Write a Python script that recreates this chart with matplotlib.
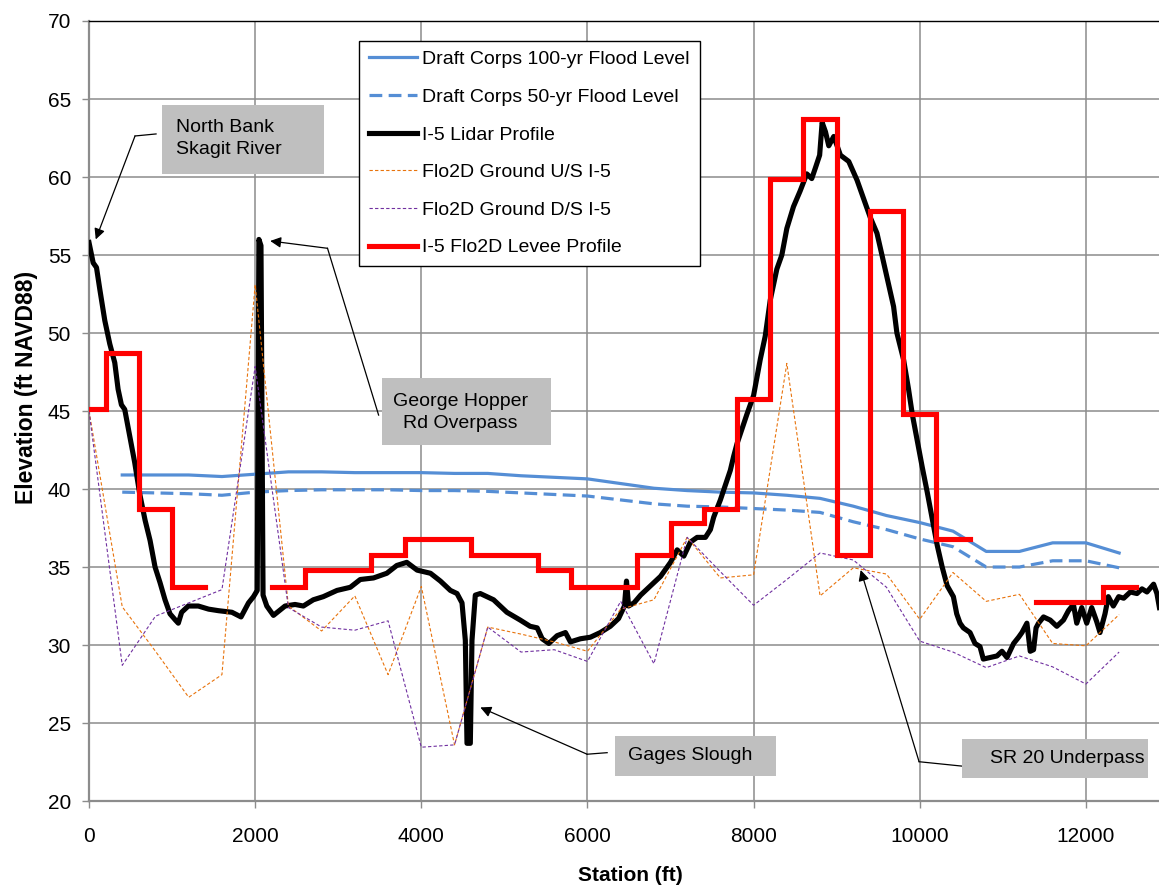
import matplotlib
matplotlib.use("Agg")
import matplotlib.pyplot as plt
from matplotlib.patches import Rectangle
import numpy as np

plt.rcParams["font.family"] = ["Liberation Sans", "DejaVu Sans"]

# Draft Corps flood levels (ft NAVD88)
corps_station = [400, 800, 1200, 1600, 2000, 2400, 2800, 3200, 3600, 4000, 4400,
                 4800, 5200, 5600, 6000, 6400, 6800, 7200, 7600, 8000, 8400, 8800,
                 9200, 9600, 10000, 10400, 10800, 11200, 11600, 12000, 12400]
corps_100yr = [40.9, 40.9, 40.9, 40.8, 40.95, 41.1, 41.1, 41.05, 41.05, 41.05, 41.0,
               41.0, 40.85, 40.75, 40.65, 40.35, 40.05, 39.9, 39.8, 39.75, 39.6, 39.4,
               38.9, 38.3, 37.85, 37.3, 36.0, 36.0, 36.55, 36.55, 35.9]
corps_50yr = [39.8, 39.75, 39.7, 39.6, 39.8, 39.9, 39.95, 39.95, 39.95, 39.9, 39.9,
              39.85, 39.75, 39.65, 39.55, 39.3, 39.05, 38.9, 38.85, 38.75, 38.65, 38.5,
              37.9, 37.4, 36.8, 36.3, 35.0, 35.0, 35.4, 35.4, 34.95]

# I-5 centerline from lidar
lidar_station = [0, 50, 90, 130, 190, 250, 310, 350, 390, 430, 490, 550, 610, 675, 735,
                 795, 855, 915, 975, 1040, 1075, 1115, 1195, 1315, 1440, 1560, 1720, 1830,
                 1920, 1980, 2025, 2045, 2070, 2095, 2140, 2220, 2360, 2480, 2580, 2700,
                 2820, 2985, 3145, 3265, 3425, 3585, 3705, 3825, 3950, 4110, 4230, 4350,
                 4430, 4490, 4530, 4550, 4590, 4610, 4650, 4710, 4870, 5030, 5190, 5310,
                 5395, 5455, 5535, 5635, 5735, 5795, 5915, 6035, 6155, 6275, 6375, 6445,
                 6470, 6495, 6560, 6640, 6760, 6880, 7000, 7080, 7160, 7240, 7320, 7420,
                 7480, 7520, 7600, 7720, 7760, 7800, 7920, 8000, 8080, 8140, 8200, 8280,
                 8340, 8400, 8480, 8560, 8640, 8700, 8745, 8795, 8825, 8865, 8905, 8965,
                 9045, 9145, 9245, 9325, 9405, 9485, 9545, 9625, 9685, 9725, 9805, 9865,
                 9910, 9970, 10030, 10090, 10150, 10210, 10270, 10330, 10405, 10445,
                 10485, 10525, 10605, 10665, 10725, 10765, 10850, 10930, 10990, 11050,
                 11130, 11190, 11230, 11290, 11330, 11370, 11400, 11430, 11490, 11570,
                 11650, 11730, 11790, 11850, 11890, 11950, 12010, 12070, 12130, 12170,
                 12230, 12270, 12330, 12395, 12455, 12535, 12615, 12675, 12735, 12815,
                 12855, 12885]
lidar_elev = [55.8, 54.5, 54.2, 52.8, 50.8, 49.3, 48.1, 46.4, 45.4, 45.1, 43.4, 41.7, 39.7,
              38.0, 36.7, 35.0, 34.0, 32.9, 32.0, 31.6, 31.4, 32.1, 32.5, 32.5, 32.3, 32.2,
              32.1, 31.8, 32.7, 33.1, 33.5, 56.0, 55.6, 33.2, 32.5, 31.9, 32.5, 32.6, 32.5,
              32.9, 33.1, 33.5, 33.7, 34.2, 34.3, 34.6, 35.1, 35.3, 34.8, 34.6, 34.1, 33.5,
              33.3, 32.7, 30.3, 23.7, 23.7, 30.3, 33.2, 33.3, 32.9, 32.1, 31.6, 31.2, 31.1,
              30.4, 30.1, 30.6, 30.8, 30.2, 30.4, 30.5, 30.8, 31.2, 31.7, 32.5, 34.1, 32.5,
              32.7, 33.2, 33.8, 34.4, 35.3, 36.1, 35.7, 36.6, 36.9, 36.9, 37.4, 38.2, 39.3,
              41.2, 42.1, 42.9, 44.8, 46.0, 48.3, 49.8, 52.1, 54.1, 55.0, 56.7, 58.1, 59.1,
              60.2, 59.9, 60.6, 61.4, 63.5, 62.9, 62.0, 62.6, 61.4, 61.0, 59.8, 58.6, 57.4,
              56.4, 55.0, 53.1, 51.7, 50.0, 48.3, 46.4, 44.8, 43.1, 41.4, 39.8, 38.1, 36.4,
              35.0, 33.8, 33.1, 32.0, 31.4, 31.1, 30.8, 30.1, 29.9, 29.1, 29.2, 29.3, 29.6,
              29.2, 30.1, 30.5, 30.8, 31.4, 29.6, 29.7, 31.1, 31.4, 31.8, 31.6, 31.2, 31.6,
              32.2, 32.6, 31.4, 32.4, 31.4, 32.4, 31.5, 30.8, 32.0, 33.1, 32.5, 33.1, 33.0,
              33.4, 33.3, 33.6, 33.4, 33.9, 33.3, 32.4]

# Flo2D grid ground elevations either side of I-5
flo2d_station = [0, 400, 800, 1200, 1600, 2000, 2400, 2800, 3200, 3600, 4000, 4400,
                 4800, 5200, 5600, 6000, 6400, 6800, 7200, 7600, 8000, 8400, 8800,
                 9200, 9600, 10000, 10400, 10800, 11200, 11600, 12000, 12400]
flo2d_us = [45.0, 32.45, 29.6, 26.65, 28.1, 53.1, 32.5, 30.9, 33.15, 28.1, 33.75, 23.6,
            31.15, 30.7, 30.2, 29.6, 32.3, 32.9, 36.9, 34.3, 34.5, 48.05, 33.15,
            34.95, 34.55, 31.65, 34.65, 32.8, 33.25, 30.1, 29.95, 31.95]
flo2d_ds = [45.0, 28.7, 31.85, 32.7, 33.55, 47.85, 32.4, 31.15, 30.95, 31.55, 23.45, 23.6,
            31.15, 29.55, 29.7, 28.95, 32.8, 28.8, 36.9, 34.7, 32.55, 34.2, 35.9,
            35.45, 33.7, 30.25, 29.55, 28.55, 29.3, 28.6, 27.5, 29.55]

# Flo2D levee elevations between station breaks (nan = no levee cells)
levee_breaks = [0, 200, 600, 1000, 1400, 2200, 2600, 3400, 3800, 4600, 5400, 5800,
                6600, 7000, 7400, 7800, 8200, 8600, 9000, 9400, 9800, 10200, 10600,
                11400, 12200, 12600]
levee_elev = [45.1, 48.75, 38.75, 33.75, np.nan, 33.75, 34.8, 35.75, 36.8, 35.75, 34.8,
              33.75, 35.75, 37.8, 38.7, 45.75, 59.85, 63.7, 35.75, 57.8, 44.8, 36.8,
              np.nan, 32.75, 33.75]

levee_x, levee_y = [], []
for a, b, z in zip(levee_breaks[:-1], levee_breaks[1:], levee_elev):
    levee_x += [a, b]
    levee_y += [z, z]

BLUE = "#558ED5"
GRID = "#8C8C8C"

fig = plt.figure(figsize=(11.59, 8.86), dpi=100)
ax = fig.add_axes([0.0768, 0.0959, 0.9232, 0.8804])

ax.plot(corps_station, corps_100yr, color=BLUE, lw=2.3,
        label="Draft Corps 100-yr Flood Level", zorder=3)
ax.plot(corps_station, corps_50yr, color=BLUE, lw=2.3, dashes=(4, 2),
        label="Draft Corps 50-yr Flood Level", zorder=3)
ax.plot(lidar_station, lidar_elev, color="black", lw=3.7, solid_joinstyle="round",
        label="I-5 Lidar Profile", zorder=4)
ax.plot(flo2d_station, flo2d_us, color="#E8730C", lw=0.8, dashes=(3, 2),
        label="Flo2D Ground U/S I-5", zorder=5)
ax.plot(flo2d_station, flo2d_ds, color="#7030A0", lw=0.8, dashes=(3, 2),
        label="Flo2D Ground D/S I-5", zorder=5)
ax.plot(levee_x, levee_y, color="#FF0000", lw=3.7, solid_joinstyle="miter",
        solid_capstyle="projecting", label="I-5 Flo2D Levee Profile", zorder=6)

ax.set_xlim(0, 12880)
ax.set_ylim(20, 70)
ax.set_xticks(np.arange(0, 12001, 2000))
ax.set_yticks(np.arange(20, 71, 5))
ax.grid(True, color=GRID, lw=1.1)
ax.set_axisbelow(True)
for side in ("left", "bottom"):
    ax.spines[side].set_color(GRID)
    ax.spines[side].set_linewidth(1.6)
ax.spines["top"].set_color("black")
ax.spines["top"].set_linewidth(1.0)
ax.spines["right"].set_visible(False)
ax.tick_params(axis="both", direction="out", length=5, width=1, color=GRID,
               labelsize=15)
ax.tick_params(axis="x", pad=14)
ax.tick_params(axis="y", pad=8)

ax.set_xlabel("Station (ft)", fontsize=15, fontweight="bold")
ax.xaxis.set_label_coords(0.5056, -0.095)
ax.xaxis.label.set_verticalalignment("center")
ax.set_ylabel("Elevation (ft NAVD88)", fontsize=16.5, fontweight="bold")
ax.yaxis.set_label_coords(-0.048, 0.53)

leg = ax.legend(loc="upper left", bbox_to_anchor=(0.2526, 0.9744), borderaxespad=0,
                fontsize=14, frameon=True, fancybox=False, edgecolor="black",
                framealpha=1, handlelength=2.45, handletextpad=0.3,
                labelspacing=1.03, borderpad=0.5)
leg.get_frame().set_linewidth(1.0)
leg.set_zorder(10)

# callout boxes: text, box extent (x0, x1, y0, y1), text position, arrow path
callouts = [
    ("North Bank\nSkagit River", (883, 2829, 60.2, 64.6), (1048, 62.45), "left",
     [(807, 62.76), (554, 62.63)], (81, 56.0)),
    ("George Hopper\nRd Overpass", (3526, 5563, 42.8, 47.1), (4470, 44.93), "center",
     [(3486, 44.74), (2871, 55.43)], (2181, 55.9)),
    ("Gages Slough", (6329, 8274, 21.6, 24.2), (6490, 22.9), "left",
     [(6237, 23.1), (5996, 23.0)], (4711, 26.0)),
    ("SR 20 Underpass", (10506, 12743, 21.5, 23.95), (10840, 22.74), "left",
     [(10506, 22.24), (9992, 22.52)], (9289, 34.81)),
]
for text, (x0, x1, y0, y1), (tx, ty), ha, path, tip in callouts:
    ax.add_patch(Rectangle((x0, y0), x1 - x0, y1 - y0, facecolor="#BFBFBF",
                           edgecolor="none", zorder=8))
    ax.text(tx, ty, text, ha=ha, va="center", fontsize=14, linespacing=1.4,
            multialignment="center" if ha == "center" else "left", zorder=9)
    px, py = zip(*path)
    ax.plot(px, py, color="black", lw=0.9, zorder=7)
    ax.annotate("", xy=tip, xytext=path[-1], zorder=7,
                arrowprops=dict(arrowstyle="-|>", color="black", lw=0.9,
                                mutation_scale=16, shrinkA=0, shrinkB=0))

fig.savefig("out.png", dpi=100)
